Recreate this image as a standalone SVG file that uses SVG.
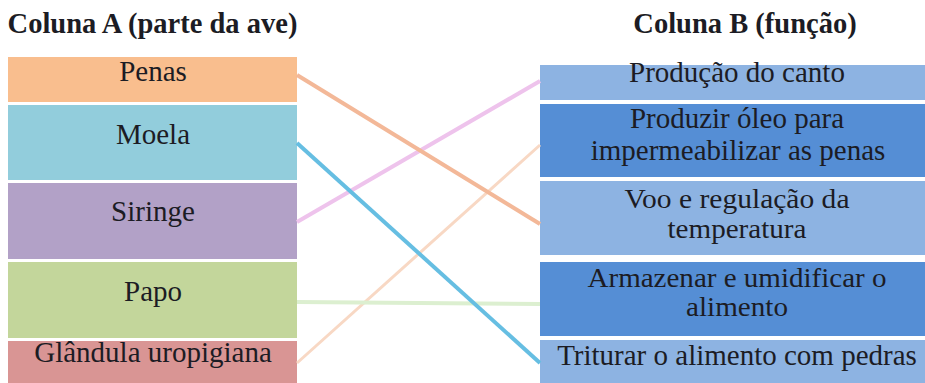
<svg xmlns="http://www.w3.org/2000/svg" width="925" height="383" viewBox="0 0 925 383">
<style>
text{font-family:"Liberation Serif","Times New Roman",serif;font-size:29px;fill:#1c1c24;text-anchor:middle}
.t{font-weight:bold;font-size:28.5px}
.m{font-size:27px}
.c{fill:none;stroke-linecap:butt}
</style>
<rect width="925" height="383" fill="#ffffff"/>
<g id="titles">
<text class="t" x="152.5" y="33">Coluna A (parte da ave)</text>
<text class="t" x="745" y="33">Coluna B (função)</text>
</g>
<g id="a-penas"><rect x="8" y="57" width="289" height="45" fill="#F9BE8E"/><text x="153" y="81">Penas</text></g>
<g id="a-moela"><rect x="8" y="105" width="289" height="75" fill="#92CDDC"/><text x="153" y="144">Moela</text></g>
<g id="a-siringe"><rect x="8" y="183" width="289" height="76" fill="#B2A1C7"/><text x="153" y="221">Siringe</text></g>
<g id="a-papo"><rect x="8" y="262" width="289" height="76" fill="#C3D69B"/><text x="153" y="301">Papo</text></g>
<g id="a-glandula"><rect x="8" y="341" width="289" height="42" fill="#D99594"/><text x="153" y="362">Glândula uropigiana</text></g>
<g id="b-canto"><rect x="540" y="65" width="385" height="35" fill="#8DB3E2"/><text x="737" y="82">Produção do canto</text></g>
<g id="b-oleo"><rect x="540" y="104" width="385" height="73" fill="#558ED5"/><text x="737" y="128">Produzir óleo para</text><text x="738" y="160">impermeabilizar as penas</text></g>
<g id="b-voo"><rect x="540" y="181" width="385" height="74" fill="#8DB3E2"/><text class="m" x="737" y="208" textLength="225" lengthAdjust="spacingAndGlyphs">Voo e regulação da</text><text class="m" x="737" y="238" textLength="139" lengthAdjust="spacingAndGlyphs">temperatura</text></g>
<g id="b-armazenar"><rect x="540" y="262" width="385" height="74" fill="#558ED5"/><text class="m" x="737" y="287" textLength="299" lengthAdjust="spacingAndGlyphs">Armazenar e umidificar o</text><text class="m" x="737" y="316" textLength="102" lengthAdjust="spacingAndGlyphs">alimento</text></g>
<g id="b-triturar"><rect x="540" y="340" width="385" height="43" fill="#8DB3E2"/><text x="737" y="365">Triturar o alimento com pedras</text></g>
<g id="connectors">
<line class="c" x1="297" y1="363" x2="540" y2="145" stroke="#F8D8C4" stroke-width="3"/>
<line class="c" x1="297" y1="302" x2="540" y2="304" stroke="#DCEFD0" stroke-width="4"/>
<line class="c" x1="297" y1="222" x2="540" y2="81" stroke="#EEC3EC" stroke-width="4"/>
<line class="c" x1="297" y1="75" x2="540" y2="224" stroke="#F3B898" stroke-width="4"/>
<line class="c" x1="297" y1="143" x2="540" y2="363" stroke="#66BEE2" stroke-width="4"/>
</g>
</svg>
